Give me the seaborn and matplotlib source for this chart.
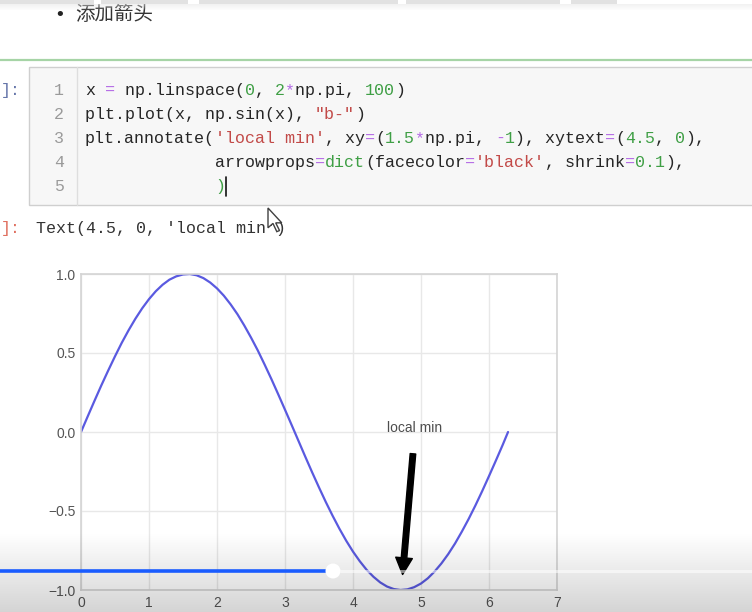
import numpy as np
import matplotlib
matplotlib.use("Agg")
import matplotlib.pyplot as plt
from matplotlib.patches import Rectangle, Polygon, Circle
import seaborn as sns

# ---------------- chart data ----------------
x_vals = [0.0, 0.1, 0.2, 0.3, 0.4, 0.5, 0.6, 0.7, 0.8, 0.9, 1.0, 1.1, 1.2, 1.3,
          1.4, 1.5, 1.6, 1.7, 1.8, 1.9, 2.0, 2.1, 2.2, 2.3, 2.4, 2.5, 2.6, 2.7,
          2.8, 2.9, 3.0, 3.1, 3.2, 3.3, 3.4, 3.5, 3.6, 3.7, 3.8, 3.9, 4.0, 4.1,
          4.2, 4.3, 4.4, 4.5, 4.6, 4.7, 4.8, 4.9, 5.0, 5.1, 5.2, 5.3, 5.4, 5.5,
          5.6, 5.7, 5.8, 5.9, 6.0, 6.1, 6.2, 6.28]
y_vals = [0.0, 0.100, 0.199, 0.296, 0.389, 0.479, 0.565, 0.644, 0.717, 0.783,
          0.841, 0.891, 0.932, 0.964, 0.985, 0.997, 1.0, 0.992, 0.974, 0.946,
          0.909, 0.863, 0.808, 0.746, 0.675, 0.598, 0.516, 0.427, 0.335, 0.239,
          0.141, 0.042, -0.058, -0.158, -0.256, -0.351, -0.443, -0.530, -0.612,
          -0.688, -0.757, -0.818, -0.872, -0.916, -0.952, -0.978, -0.994, -1.0,
          -0.996, -0.982, -0.959, -0.926, -0.883, -0.832, -0.773, -0.706, -0.631,
          -0.551, -0.465, -0.374, -0.279, -0.182, -0.083, 0.0]
x_ticks = [0, 1, 2, 3, 4, 5, 6, 7]
x_tick_labels = ["0", "1", "2", "3", "4", "5", "6", "7"]
y_ticks = [-1.0, -0.5, 0.0, 0.5, 1.0]
y_tick_labels = ["\u22121.0", "\u22120.5", "0.0", "0.5", "1.0"]
annot_label = "local min"
annot_point = (4.71, -1.0)
annot_text_pos = (4.5, 0.0)

# ---------------- notebook texts ----------------
heading = "添加箭头"
code_lines = [
    [("x", "k"), (" ", "k"), ("=", "op"), (" np.linspace(", "k"), ("0", "num"),
     (", ", "k"), ("2", "num"), ("*", "op"), ("np.pi, ", "k"), ("100", "num"), (")", "k")],
    [("plt.plot(x, np.sin(x), ", "k"), ('"b-"', "str"), (")", "k")],
    [("plt.annotate(", "k"), ("'local min'", "str"), (", xy", "k"), ("=", "op"),
     ("(", "k"), ("1.5", "num"), ("*", "op"), ("np.pi, ", "k"), ("-", "op"),
     ("1", "num"), ("), xytext", "k"), ("=", "op"), ("(", "k"), ("4.5", "num"),
     (", ", "k"), ("0", "num"), ("),", "k")],
    [(" " * 13, "k"), ("arrowprops", "k"), ("=", "op"), ("dict", "num"),
     ("(facecolor", "k"), ("=", "op"), ("'black'", "str"), (", shrink", "k"),
     ("=", "op"), ("0.1", "num"), ("),", "k")],
    [(" " * 13, "k"), (")", "num")],
]
output_text = "Text(4.5, 0, 'local min')"

COLORS = {"k": "#262626", "op": "#b46ae6", "num": "#3f9f45", "str": "#c24a48"}
LINE_COLOR = "#5a5ae0"

W, H = 752, 612

sns.set_theme(style="whitegrid")
plt.rcParams['font.family'] = ['Liberation Sans', 'Noto Sans CJK SC', 'DejaVu Sans']

fig = plt.figure(figsize=(W / 100, H / 100), dpi=100)
fig.patch.set_facecolor("white")

# ---------- background layer (notebook) in pixel coordinates ----------
bg = fig.add_axes([0, 0, 1, 1], zorder=0)
bg.set_xlim(0, W)
bg.set_ylim(H, 0)
bg.axis("off")

# top tab strip
for x0, x1 in [(0, 94), (101, 188), (199, 398), (406, 560), (571, 617)]:
    bg.add_patch(Rectangle((x0, 0), x1 - x0, 4, facecolor="#e2e2e2", edgecolor="none", zorder=5))
for k in range(6):
    bg.add_patch(Rectangle((0, 4 + k), W, 1, facecolor="#e6e6e6", alpha=0.5 * (1 - k / 6),
                           edgecolor="none", zorder=5))

bg.text(60, 15, "\u2022", fontsize=13, color="#222222", ha="center", va="center",
        family="DejaVu Sans")
bg.text(75, 15, heading, fontsize=14, color="#333333", ha="left", va="center",
        family=["Noto Sans CJK SC", "DejaVu Sans"])

# green selection line
bg.plot([0, W], [59.5, 59.5], color="#a6d4a6", lw=1.6, solid_capstyle="butt")

# code cell box
bg.add_patch(Rectangle((29, 67), W, 138, facecolor="#f7f7f7", edgecolor="#cfcfcf", lw=1))
bg.plot([77, 77], [67, 205], color="#dedede", lw=1)

MONO = "Liberation Mono"
FS = 12
CW = 0.6 * FS * 100 / 72  # character advance in pixels

bg.text(1, 95, "]:", family=MONO, fontsize=FS, color="#6676aa", va="baseline", ha="left")
for i, tokens in enumerate(code_lines):
    base = 95 + 24 * i
    bg.text(64, base, str(i + 1), family=MONO, fontsize=FS, color="#9a9a9a",
            va="baseline", ha="right")
    col = 0
    for txt, key in tokens:
        if txt.strip():
            bg.text(85 + col * CW, base, txt, family=MONO, fontsize=FS,
                    color=COLORS[key], va="baseline", ha="left")
        col += len(txt)

# edit cursor
bg.plot([226, 226], [177, 196], color="#111111", lw=1.2)

# output line
bg.text(1, 233, "]:", family=MONO, fontsize=FS, color="#e07060", va="baseline", ha="left")
bg.text(36, 233, output_text, family=MONO, fontsize=FS, color="#333333",
        va="baseline", ha="left")

# ---------------- the chart ----------------
ax = fig.add_axes([81 / W, 22 / H, 476 / W, 316 / H], zorder=1)
ax.set_facecolor("white")
sns.lineplot(x=x_vals, y=y_vals, ax=ax, color=LINE_COLOR, linewidth=1.6, sort=False)
ax.set_xlim(0, 7)
ax.set_ylim(-1, 1)
ax.set_xticks(x_ticks)
ax.set_xticklabels(x_tick_labels)
ax.set_yticks(y_ticks)
ax.set_yticklabels(y_tick_labels)
ax.grid(True, color="#e8e8e8", lw=1)
for s in ax.spines.values():
    s.set_color("#d4d4d4")
    s.set_linewidth(1.2)
ax.tick_params(length=0, pad=4, labelsize=10, labelcolor="#555555")
ax.set_xlabel("")
ax.set_ylabel("")
ax.annotate(annot_label, xy=annot_point, xytext=annot_text_pos,
            arrowprops=dict(facecolor="black", edgecolor="black", shrink=0.1),
            fontsize=10, color="#4d4d4d")

# ---------------- overlay (video player) ----------------
ov = fig.add_axes([0, 0, 1, 1], zorder=2)
ov.set_xlim(0, W)
ov.set_ylim(H, 0)
ov.patch.set_alpha(0)
ov.axis("off")

grad = np.zeros((80, 2, 4))
grad[:, :, 3] = np.linspace(0, 0.17, 80)[:, None]
ov.imshow(grad, extent=[0, W, H, 532], aspect="auto", interpolation="bilinear", zorder=1)
ov.set_xlim(0, W)
ov.set_ylim(H, 0)

ov.plot([340, W], [571, 571], color="white", alpha=0.55, lw=2.2, solid_capstyle="butt", zorder=2)
ov.plot([0, 333], [571, 571], color="#1a5cff", lw=2.6, solid_capstyle="butt", zorder=3)
ov.add_patch(Circle((333, 571), 7.5, facecolor="white", edgecolor="none", zorder=4))

# mouse pointer
tip = np.array([268, 208])
shape = np.array([(0, 0), (0, 18), (4.5, 14), (8, 21.5), (10.5, 20.5), (7, 13.5), (12.5, 13.5)]) * 1.1
ov.add_patch(Polygon(shape + tip, closed=True, facecolor="white", edgecolor="#404040",
                     lw=1.0, zorder=5))

fig.savefig("out.png", dpi=100)
